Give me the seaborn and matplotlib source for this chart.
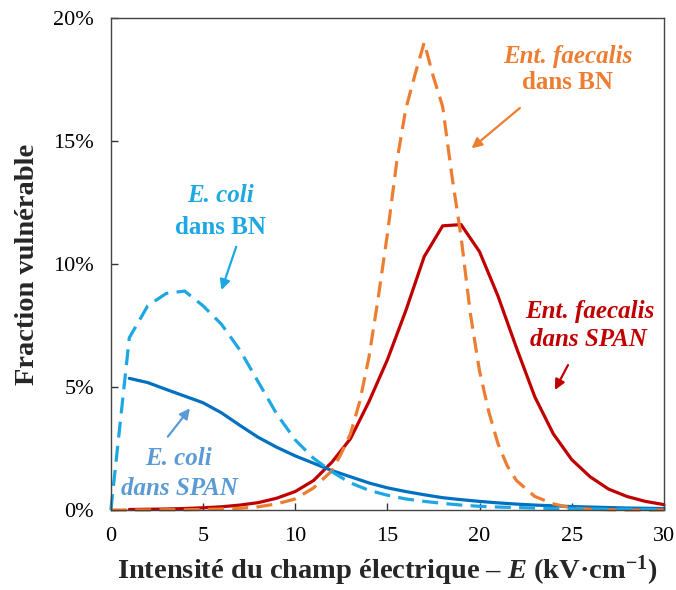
import numpy as np
import pandas as pd
import matplotlib.pyplot as plt
import seaborn as sns
from matplotlib.ticker import MultipleLocator, FuncFormatter

sns.set_style("ticks")
plt.rcParams["font.family"] = ["Liberation Serif", "DejaVu Serif"]
plt.rcParams["mathtext.fontset"] = "custom"
plt.rcParams["mathtext.rm"] = "Liberation Serif:bold"
plt.rcParams["mathtext.it"] = "Liberation Serif:italic:bold"
plt.rcParams["mathtext.bf"] = "Liberation Serif:bold"

# data (fraction vulnerable, %)
ecoli_bn_x = list(range(0, 31))
ecoli_bn_y = [0, 7.0, 8.3, 8.8, 8.9, 8.3, 7.55, 6.5, 5.2, 3.9, 2.85, 2.1, 1.55,
              1.1, 0.8, 0.6, 0.45, 0.35, 0.27, 0.2, 0.15, 0.12, 0.1, 0.08, 0.06,
              0.05, 0.04, 0.03, 0.03, 0.02, 0.02]

ecoli_span_x = list(range(1, 31))
ecoli_span_y = [5.35, 5.18, 4.9, 4.63, 4.36, 3.95, 3.44, 2.95, 2.55, 2.2, 1.9,
                1.6, 1.35, 1.1, 0.9, 0.75, 0.62, 0.5, 0.42, 0.35, 0.29, 0.24,
                0.2, 0.17, 0.14, 0.12, 0.1, 0.08, 0.07, 0.06]

faec_span_x = list(range(1, 31))
faec_span_y = [0.02, 0.03, 0.04, 0.06, 0.09, 0.13, 0.2, 0.3, 0.48, 0.75, 1.2,
               1.95, 2.9, 4.4, 6.1, 8.1, 10.3, 11.55, 11.6, 10.5, 8.7, 6.6, 4.6,
               3.1, 2.05, 1.35, 0.85, 0.55, 0.35, 0.22]

faec_bn_x = [0, 1, 2, 3, 4, 5, 6, 7, 8, 9, 10, 11, 12, 12.5, 13, 13.5, 14, 14.5,
             15, 15.5, 16, 16.5, 17, 17.5, 18, 18.5, 19, 19.5, 20, 20.5, 21,
             21.5, 22, 23, 24, 25, 26, 27, 28, 29, 30]
faec_bn_y = [0, 0, 0, 0.01, 0.01, 0.02, 0.04, 0.07, 0.13, 0.25, 0.45, 0.9, 1.6,
             2.3, 3.1, 4.4, 6.2, 8.6, 11.2, 14.1, 16.3, 17.7, 19.0, 17.6, 16.4,
             13.6, 11.1, 8.0, 5.65, 4.0, 2.7, 1.8, 1.2, 0.55, 0.25, 0.08, 0.03,
             0.01, 0, 0, 0]

c_ecoli_bn = "#1DA8E3"
c_ecoli_span = "#0070C0"
c_ecoli_span_txt = "#5B9BD5"
c_faec_bn = "#ED7D31"
c_faec_span = "#C00000"

fig = plt.figure(figsize=(6.76, 5.9), dpi=100)
ax = fig.add_axes([0.164, 0.1356, 0.818, 0.834])

lw = 2.3
dash = (0, (5, 2.6))
sns.lineplot(x=faec_span_x, y=faec_span_y, ax=ax, color=c_faec_span, lw=lw)
sns.lineplot(x=ecoli_span_x, y=ecoli_span_y, ax=ax, color=c_ecoli_span, lw=lw)
sns.lineplot(x=faec_bn_x, y=faec_bn_y, ax=ax, color=c_faec_bn, lw=lw,
             linestyle=dash)
sns.lineplot(x=ecoli_bn_x, y=ecoli_bn_y, ax=ax, color=c_ecoli_bn, lw=lw,
             linestyle=dash)
for ln in ax.lines:
    ln.set_clip_on(False)

ax.set_xlim(0, 30)
ax.set_ylim(0, 20)
ax.xaxis.set_major_locator(MultipleLocator(5))
ax.yaxis.set_major_locator(MultipleLocator(5))
ax.yaxis.set_major_formatter(FuncFormatter(lambda v, p: f"{v:.0f}%"))
ax.tick_params(direction="in", length=5, width=1, labelsize=16, pad=12,
               colors="#333333", labelcolor="black")
for s in ax.spines.values():
    s.set_color("#444444")
    s.set_linewidth(1)

ax.set_ylabel("Fraction vulnérable", fontsize=20.5, fontweight="bold",
              labelpad=10)
ax.set_xlabel(r"Intensité du champ électrique – $E$ (kV·cm$^{-1}$)",
              fontsize=20.5, fontweight="bold", labelpad=6)

fs = 18
arrow_kw = dict(arrowstyle="-|>", lw=1.6, mutation_scale=15, shrinkA=0,
                shrinkB=0)

# E. coli dans BN
ax.text(5.97, 12.8, "E. coli", color=c_ecoli_bn, fontsize=fs, fontweight="bold",
        style="italic", ha="center", va="center")
ax.text(5.97, 11.5, "dans BN", color=c_ecoli_bn, fontsize=fs, fontweight="bold",
        ha="center", va="center")
ax.annotate("", xy=(6.0, 8.94), xytext=(6.8, 10.7),
            arrowprops=dict(color=c_ecoli_bn, **arrow_kw))

# E. coli dans SPAN
ax.text(3.69, 2.11, "E. coli", color=c_ecoli_span_txt, fontsize=fs,
        fontweight="bold", style="italic", ha="center", va="center")
ax.text(3.72, 0.89, "dans SPAN", color=c_ecoli_span_txt, fontsize=fs,
        fontweight="bold", style="italic", ha="center", va="center")
ax.annotate("", xy=(4.29, 4.13), xytext=(3.09, 2.98),
            arrowprops=dict(color=c_ecoli_span_txt, **arrow_kw))

# Ent. faecalis dans BN
ax.text(24.8, 18.43, "Ent. faecalis", color=c_faec_bn, fontsize=fs,
        fontweight="bold", style="italic", ha="center", va="center")
ax.text(24.8, 17.36, "dans BN", color=c_faec_bn, fontsize=fs, fontweight="bold",
        ha="center", va="center")
ax.annotate("", xy=(19.57, 14.7), xytext=(22.19, 16.34),
            arrowprops=dict(color=c_faec_bn, **arrow_kw))

# Ent. faecalis dans SPAN
ax.text(26.0, 8.06, "Ent. faecalis", color=c_faec_span, fontsize=fs,
        fontweight="bold", style="italic", ha="center", va="center")
ax.text(25.9, 6.91, "dans SPAN", color=c_faec_span, fontsize=fs,
        fontweight="bold", style="italic", ha="center", va="center")
ax.annotate("", xy=(24.09, 4.88), xytext=(24.8, 5.89),
            arrowprops=dict(color=c_faec_span, **arrow_kw))

fig.savefig("out.png", dpi=100)
